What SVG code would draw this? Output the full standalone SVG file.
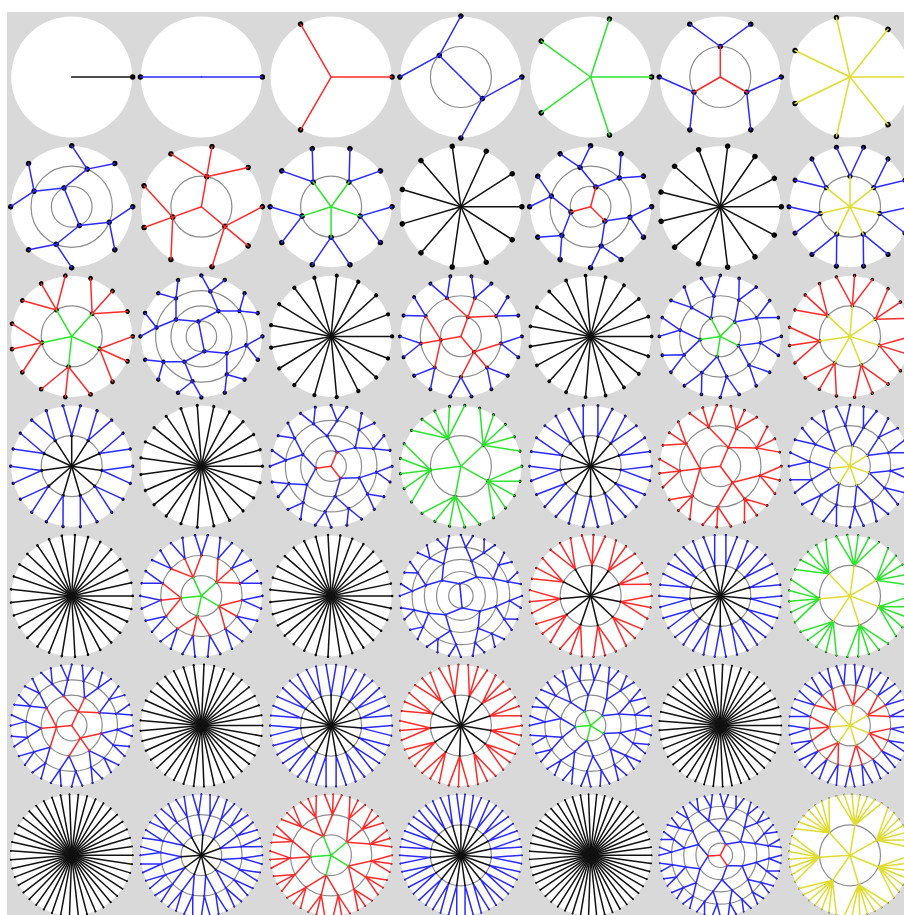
<svg xmlns="http://www.w3.org/2000/svg" xmlns:xlink="http://www.w3.org/1999/xlink" width="904" height="915" viewBox="0 0 904 915">
<style>
.w{fill:#fff}
.c{fill:none;stroke:#8c8c8c;stroke-width:1.2}
path{fill:none;stroke-width:1.5;stroke-linecap:round}
.b{stroke:#2a2aff}.r{stroke:#ff2a2a}.g{stroke:#2ae62a}.y{stroke:#e0dc30}.k{stroke:#111}
circle{fill:#000}
</style>
<defs>
<circle id="W" class="w" r="60.5"/>
<g id="c2"><circle class="c" r="30.5"/></g>
<g id="c3"><circle class="c" r="20.33"/><circle class="c" r="40.67"/></g>
<g id="c4"><circle class="c" r="15.25"/><circle class="c" r="30.5"/><circle class="c" r="45.75"/></g>
<g id="c5"><circle class="c" r="12.2"/><circle class="c" r="24.4"/><circle class="c" r="36.6"/><circle class="c" r="48.8"/></g>
<g id="p1"><circle cx="61" r="2.7"/><path class="k" d="M0 0H61"/></g>
<g id="p2"><circle cx="61" r="2.7"/><path class="b" d="M0 0H61"/></g>
<g id="p3"><circle cx="61" r="2.7"/><path class="r" d="M0 0H61"/></g>
<g id="p5"><circle cx="61" r="2.7"/><path class="g" d="M0 0H61"/></g>
<g id="p7"><circle cx="61" r="2.7"/><path class="y" d="M0 0H61"/></g>
<g id="p17"><circle cx="61" r="2.11"/><path class="k" d="M0 0H61"/></g>
<g id="p19"><circle cx="61" r="1.91"/><path class="k" d="M0 0H61"/></g>
<g id="p23"><circle cx="61" r="1.61"/><path class="k" d="M0 0H61"/></g>
<g id="p29"><circle cx="61" r="1.32"/><path class="k" d="M0 0H61"/></g>
<g id="p31"><circle cx="61" r="1.25"/><path class="k" d="M0 0H61"/></g>
<g id="p37"><circle cx="61" r="1.08"/><path class="k" d="M0 0H61"/></g>
<g id="p41"><circle cx="61" r=".99"/><path class="k" d="M0 0H61"/></g>
<g id="p43"><circle cx="61" r=".96"/><path class="k" d="M0 0H61"/></g>
<g id="p47"><circle cx="61" r=".89"/><path class="k" d="M0 0H61"/></g>

<g id="n4s1"><circle cx="30.5" r="2.7"/><circle cx="43.13" cy="-43.13" r="2.7"/><circle cx="43.13" cy="43.13" r="2.7"/><path class="b" d="M30.5 0L43.13-43.13M30.5 0L43.13 43.13"/></g>
<g id="n4t"><use href="#n4s1"/><path class="b" d="M0 0H30.5"/></g>

<g id="n6s1"><circle cx="30.5" r="2.7"/><circle cx="52.83" cy="-30.5" r="2.7"/><circle cx="52.83" cy="30.5" r="2.7"/><path class="b" d="M30.5 0L52.83-30.5M30.5 0L52.83 30.5"/></g>
<g id="n6t"><use href="#n6s1"/><path class="r" d="M0 0H30.5"/></g>

<g id="n8s2"><circle cx="40.67" r="2.7"/><circle cx="56.36" cy="-23.34" r="2.7"/><circle cx="56.36" cy="23.34" r="2.7"/><path class="b" d="M40.67 0L56.36-23.34M40.67 0L56.36 23.34"/></g>
<g id="n8s1"><circle cx="20.33" r="2.7"/><use href="#n8s2" transform="rotate(-45)"/><use href="#n8s2" transform="rotate(45)"/><path class="b" d="M20.33 0L28.76-28.76M20.33 0L28.76 28.76"/></g>
<g id="n8t"><use href="#n8s1"/><path class="b" d="M0 0H20.33"/></g>

<g id="n9s1"><circle cx="30.5" r="2.7"/><circle cx="61" r="2.7"/><circle cx="46.73" cy="-39.21" r="2.7"/><circle cx="46.73" cy="39.21" r="2.7"/><path class="r" d="M30.5 0H61M30.5 0L46.73-39.21M30.5 0L46.73 39.21"/></g>
<g id="n9t"><use href="#n9s1"/><path class="r" d="M0 0H30.5"/></g>

<g id="n10s1"><circle cx="30.5" r="2.7"/><circle cx="58.01" cy="-18.85" r="2.7"/><circle cx="58.01" cy="18.85" r="2.7"/><path class="b" d="M30.5 0L58.01-18.85M30.5 0L58.01 18.85"/></g>
<g id="n10t"><use href="#n10s1"/><path class="g" d="M0 0H30.5"/></g>

<g id="n12s2"><circle cx="40.67" r="2.7"/><circle cx="58.92" cy="-15.79" r="2.7"/><circle cx="58.92" cy="15.79" r="2.7"/><path class="b" d="M40.67 0L58.92-15.79M40.67 0L58.92 15.79"/></g>
<g id="n12s1"><circle cx="20.33" r="2.7"/><use href="#n12s2" transform="rotate(-30)"/><use href="#n12s2" transform="rotate(30)"/><path class="b" d="M20.33 0L35.22-20.33M20.33 0L35.22 20.33"/></g>
<g id="n12t"><use href="#n12s1"/><path class="r" d="M0 0H20.33"/></g>

<g id="n14s1"><circle cx="30.5" r="2.52"/><circle cx="59.47" cy="-13.57" r="2.52"/><circle cx="59.47" cy="13.57" r="2.52"/><path class="b" d="M30.5 0L59.47-13.57M30.5 0L59.47 13.57"/></g>
<g id="n14t"><use href="#n14s1"/><path class="y" d="M0 0H30.5"/></g>

<g id="n15s1"><circle cx="30.5" r="2.37"/><circle cx="61" r="2.37"/><circle cx="55.73" cy="-24.81" r="2.37"/><circle cx="55.73" cy="24.81" r="2.37"/><path class="r" d="M30.5 0H61M30.5 0L55.73-24.81M30.5 0L55.73 24.81"/></g>
<g id="n15t"><use href="#n15s1"/><path class="g" d="M0 0H30.5"/></g>

<g id="n16s3"><circle cx="45.75" r="2.23"/><circle cx="59.83" cy="-11.9" r="2.23"/><circle cx="59.83" cy="11.9" r="2.23"/><path class="b" d="M45.75 0L59.83-11.9M45.75 0L59.83 11.9"/></g>
<g id="n16s2"><circle cx="30.5" r="2.23"/><use href="#n16s3" transform="rotate(-22.5)"/><use href="#n16s3" transform="rotate(22.5)"/><path class="b" d="M30.5 0L42.27-17.51M30.5 0L42.27 17.51"/></g>
<g id="n16s1"><circle cx="15.25" r="2.23"/><use href="#n16s2" transform="rotate(-45)"/><use href="#n16s2" transform="rotate(45)"/><path class="b" d="M15.25 0L21.57-21.57M15.25 0L21.57 21.57"/></g>
<g id="n16t"><use href="#n16s1"/><path class="b" d="M0 0H15.25"/></g>

<g id="n18s2"><circle cx="40.67" r="2"/><circle cx="60.07" cy="-10.59" r="2"/><circle cx="60.07" cy="10.59" r="2"/><path class="b" d="M40.67 0L60.07-10.59M40.67 0L60.07 10.59"/></g>
<g id="n18s1"><circle cx="20.33" r="2"/><use href="#n18s2"/><use href="#n18s2" transform="rotate(-40)"/><use href="#n18s2" transform="rotate(40)"/><path class="r" d="M20.33 0H40.67M20.33 0L31.15-26.14M20.33 0L31.15 26.14"/></g>
<g id="n18t"><use href="#n18s1"/><path class="r" d="M0 0H20.33"/></g>

<g id="n20s2"><circle cx="40.67" r="1.83"/><circle cx="60.25" cy="-9.54" r="1.83"/><circle cx="60.25" cy="9.54" r="1.83"/><path class="b" d="M40.67 0L60.25-9.54M40.67 0L60.25 9.54"/></g>
<g id="n20s1"><circle cx="20.33" r="1.83"/><use href="#n20s2" transform="rotate(-18)"/><use href="#n20s2" transform="rotate(18)"/><path class="b" d="M20.33 0L38.68-12.57M20.33 0L38.68 12.57"/></g>
<g id="n20t"><use href="#n20s1"/><path class="g" d="M0 0H20.33"/></g>

<g id="n21s1"><circle cx="30.5" r="1.75"/><circle cx="61" r="1.75"/><circle cx="58.29" cy="-17.98" r="1.75"/><circle cx="58.29" cy="17.98" r="1.75"/><path class="r" d="M30.5 0H61M30.5 0L58.29-17.98M30.5 0L58.29 17.98"/></g>
<g id="n21t"><use href="#n21s1"/><path class="y" d="M0 0H30.5"/></g>

<g id="n22s1"><circle cx="30.5" r="1.68"/><circle cx="60.38" cy="-8.68" r="1.68"/><circle cx="60.38" cy="8.68" r="1.68"/><path class="b" d="M30.5 0L60.38-8.68M30.5 0L60.38 8.68"/></g>
<g id="n22t"><use href="#n22s1"/><path class="k" d="M0 0H30.5"/></g>

<g id="n24s3"><circle cx="45.75" r="1.55"/><circle cx="60.48" cy="-7.96" r="1.55"/><circle cx="60.48" cy="7.96" r="1.55"/><path class="b" d="M45.75 0L60.48-7.96M45.75 0L60.48 7.96"/></g>
<g id="n24s2"><circle cx="30.5" r="1.55"/><use href="#n24s3" transform="rotate(-15)"/><use href="#n24s3" transform="rotate(15)"/><path class="b" d="M30.5 0L44.19-11.84M30.5 0L44.19 11.84"/></g>
<g id="n24s1"><circle cx="15.25" r="1.55"/><use href="#n24s2" transform="rotate(-30)"/><use href="#n24s2" transform="rotate(30)"/><path class="b" d="M15.25 0L26.41-15.25M15.25 0L26.41 15.25"/></g>
<g id="n24t"><use href="#n24s1"/><path class="r" d="M0 0H15.25"/></g>

<g id="n25s1"><circle cx="30.5" r="1.5"/><circle cx="61" r="1.5"/><circle cx="59.08" cy="-15.17" r="1.5"/><circle cx="59.08" cy="15.17" r="1.5"/><circle cx="53.45" cy="-29.39" r="1.5"/><circle cx="53.45" cy="29.39" r="1.5"/><path class="g" d="M30.5 0H61M30.5 0L59.08-15.17M30.5 0L59.08 15.17M30.5 0L53.45-29.39M30.5 0L53.45 29.39"/></g>
<g id="n25t"><use href="#n25s1"/><path class="g" d="M0 0H30.5"/></g>

<g id="n26s1"><circle cx="30.5" r="1.45"/><circle cx="60.56" cy="-7.35" r="1.45"/><circle cx="60.56" cy="7.35" r="1.45"/><path class="b" d="M30.5 0L60.56-7.35M30.5 0L60.56 7.35"/></g>
<g id="n26t"><use href="#n26s1"/><path class="k" d="M0 0H30.5"/></g>

<g id="n27s2"><circle cx="40.67" r="1.4"/><circle cx="61" r="1.4"/><circle cx="59.36" cy="-14.07" r="1.4"/><circle cx="59.36" cy="14.07" r="1.4"/><path class="r" d="M40.67 0H61M40.67 0L59.36-14.07M40.67 0L59.36 14.07"/></g>
<g id="n27s1"><circle cx="20.33" r="1.4"/><use href="#n27s2"/><use href="#n27s2" transform="rotate(-40)"/><use href="#n27s2" transform="rotate(40)"/><path class="r" d="M20.33 0H40.67M20.33 0L31.15-26.14M20.33 0L31.15 26.14"/></g>
<g id="n27t"><use href="#n27s1"/><path class="r" d="M0 0H20.33"/></g>

<g id="n28s2"><circle cx="40.67" r="1.36"/><circle cx="60.62" cy="-6.83" r="1.36"/><circle cx="60.62" cy="6.83" r="1.36"/><path class="b" d="M40.67 0L60.62-6.83M40.67 0L60.62 6.83"/></g>
<g id="n28s1"><circle cx="20.33" r="1.36"/><use href="#n28s2" transform="rotate(-12.857)"/><use href="#n28s2" transform="rotate(12.857)"/><path class="b" d="M20.33 0L39.65-9.05M20.33 0L39.65 9.05"/></g>
<g id="n28t"><use href="#n28s1"/><path class="y" d="M0 0H20.33"/></g>

<g id="n30s2"><circle cx="40.67" r="1.28"/><circle cx="60.67" cy="-6.38" r="1.28"/><circle cx="60.67" cy="6.38" r="1.28"/><path class="b" d="M40.67 0L60.67-6.38M40.67 0L60.67 6.38"/></g>
<g id="n30s1"><circle cx="20.33" r="1.28"/><use href="#n30s2"/><use href="#n30s2" transform="rotate(-24)"/><use href="#n30s2" transform="rotate(24)"/><path class="r" d="M20.33 0H40.67M20.33 0L37.15-16.54M20.33 0L37.15 16.54"/></g>
<g id="n30t"><use href="#n30s1"/><path class="g" d="M0 0H20.33"/></g>

<g id="n32s4"><circle cx="48.8" r="1.22"/><circle cx="60.71" cy="-5.98" r="1.22"/><circle cx="60.71" cy="5.98" r="1.22"/><path class="b" d="M48.8 0L60.71-5.98M48.8 0L60.71 5.98"/></g>
<g id="n32s3"><circle cx="36.6" r="1.22"/><use href="#n32s4" transform="rotate(-11.25)"/><use href="#n32s4" transform="rotate(11.25)"/><path class="b" d="M36.6 0L47.86-9.52M36.6 0L47.86 9.52"/></g>
<g id="n32s2"><circle cx="24.4" r="1.22"/><use href="#n32s3" transform="rotate(-22.5)"/><use href="#n32s3" transform="rotate(22.5)"/><path class="b" d="M24.4 0L33.81-14.01M24.4 0L33.81 14.01"/></g>
<g id="n32s1"><circle cx="12.2" r="1.22"/><use href="#n32s2" transform="rotate(-45)"/><use href="#n32s2" transform="rotate(45)"/><path class="b" d="M12.2 0L17.25-17.25M12.2 0L17.25 17.25"/></g>
<g id="n32t"><use href="#n32s1"/><path class="b" d="M0 0H12.2"/></g>

<g id="n33s1"><circle cx="30.5" r="1.18"/><circle cx="61" r="1.18"/><circle cx="59.9" cy="-11.54" r="1.18"/><circle cx="59.9" cy="11.54" r="1.18"/><path class="r" d="M30.5 0H61M30.5 0L59.9-11.54M30.5 0L59.9 11.54"/></g>
<g id="n33t"><use href="#n33s1"/><path class="k" d="M0 0H30.5"/></g>

<g id="n34s1"><circle cx="30.5" r="1.16"/><circle cx="60.74" cy="-5.63" r="1.16"/><circle cx="60.74" cy="5.63" r="1.16"/><path class="b" d="M30.5 0L60.74-5.63M30.5 0L60.74 5.63"/></g>
<g id="n34t"><use href="#n34s1"/><path class="k" d="M0 0H30.5"/></g>

<g id="n35s1"><circle cx="30.5" r="1.13"/><circle cx="61" r="1.13"/><circle cx="60.02" cy="-10.89" r="1.13"/><circle cx="60.02" cy="10.89" r="1.13"/><circle cx="57.11" cy="-21.43" r="1.13"/><circle cx="57.11" cy="21.43" r="1.13"/><path class="g" d="M30.5 0H61M30.5 0L60.02-10.89M30.5 0L60.02 10.89M30.5 0L57.11-21.43M30.5 0L57.11 21.43"/></g>
<g id="n35t"><use href="#n35s1"/><path class="y" d="M0 0H30.5"/></g>

<g id="n36s3"><circle cx="45.75" r="1.1"/><circle cx="60.77" cy="-5.32" r="1.1"/><circle cx="60.77" cy="5.32" r="1.1"/><path class="b" d="M45.75 0L60.77-5.32M45.75 0L60.77 5.32"/></g>
<g id="n36s2"><circle cx="30.5" r="1.1"/><use href="#n36s3" transform="rotate(-10)"/><use href="#n36s3" transform="rotate(10)"/><path class="b" d="M30.5 0L45.05-7.94M30.5 0L45.05 7.94"/></g>
<g id="n36s1"><circle cx="15.25" r="1.1"/><use href="#n36s2"/><use href="#n36s2" transform="rotate(-40)"/><use href="#n36s2" transform="rotate(40)"/><path class="r" d="M15.25 0H30.5M15.25 0L23.36-19.61M15.25 0L23.36 19.61"/></g>
<g id="n36t"><use href="#n36s1"/><path class="r" d="M0 0H15.25"/></g>

<g id="n38s1"><circle cx="30.5" r="1.06"/><circle cx="60.79" cy="-5.04" r="1.06"/><circle cx="60.79" cy="5.04" r="1.06"/><path class="b" d="M30.5 0L60.79-5.04M30.5 0L60.79 5.04"/></g>
<g id="n38t"><use href="#n38s1"/><path class="k" d="M0 0H30.5"/></g>

<g id="n39s1"><circle cx="30.5" r="1.03"/><circle cx="61" r="1.03"/><circle cx="60.21" cy="-9.79" r="1.03"/><circle cx="60.21" cy="9.79" r="1.03"/><path class="r" d="M30.5 0H61M30.5 0L60.21-9.79M30.5 0L60.21 9.79"/></g>
<g id="n39t"><use href="#n39s1"/><path class="k" d="M0 0H30.5"/></g>

<g id="n40s3"><circle cx="45.75" r="1.01"/><circle cx="60.81" cy="-4.79" r="1.01"/><circle cx="60.81" cy="4.79" r="1.01"/><path class="b" d="M45.75 0L60.81-4.79M45.75 0L60.81 4.79"/></g>
<g id="n40s2"><circle cx="30.5" r="1.01"/><use href="#n40s3" transform="rotate(-9)"/><use href="#n40s3" transform="rotate(9)"/><path class="b" d="M30.5 0L45.19-7.16M30.5 0L45.19 7.16"/></g>
<g id="n40s1"><circle cx="15.25" r="1.01"/><use href="#n40s2" transform="rotate(-18)"/><use href="#n40s2" transform="rotate(18)"/><path class="b" d="M15.25 0L29.01-9.43M15.25 0L29.01 9.43"/></g>
<g id="n40t"><use href="#n40s1"/><path class="g" d="M0 0H15.25"/></g>

<g id="n42s2"><circle cx="40.67" r=".97"/><circle cx="60.83" cy="-4.56" r=".97"/><circle cx="60.83" cy="4.56" r=".97"/><path class="b" d="M40.67 0L60.83-4.56M40.67 0L60.83 4.56"/></g>
<g id="n42s1"><circle cx="20.33" r=".97"/><use href="#n42s2"/><use href="#n42s2" transform="rotate(-17.143)"/><use href="#n42s2" transform="rotate(17.143)"/><path class="r" d="M20.33 0H40.67M20.33 0L38.86-11.99M20.33 0L38.86 11.99"/></g>
<g id="n42t"><use href="#n42s1"/><path class="y" d="M0 0H20.33"/></g>

<g id="n44s2"><circle cx="40.67" r=".94"/><circle cx="60.84" cy="-4.35" r=".94"/><circle cx="60.84" cy="4.35" r=".94"/><path class="b" d="M40.67 0L60.84-4.35M40.67 0L60.84 4.35"/></g>
<g id="n44s1"><circle cx="20.33" r=".94"/><use href="#n44s2" transform="rotate(-8.182)"/><use href="#n44s2" transform="rotate(8.182)"/><path class="b" d="M20.33 0L40.26-5.79M20.33 0L40.26 5.79"/></g>
<g id="n44t"><use href="#n44s1"/><path class="k" d="M0 0H20.33"/></g>

<g id="n45s2"><circle cx="40.67" r=".92"/><circle cx="61" r=".92"/><circle cx="60.41" cy="-8.49" r=".92"/><circle cx="60.41" cy="8.49" r=".92"/><path class="r" d="M40.67 0H61M40.67 0L60.41-8.49M40.67 0L60.41 8.49"/></g>
<g id="n45s1"><circle cx="20.33" r=".92"/><use href="#n45s2"/><use href="#n45s2" transform="rotate(-24)"/><use href="#n45s2" transform="rotate(24)"/><path class="r" d="M20.33 0H40.67M20.33 0L37.15-16.54M20.33 0L37.15 16.54"/></g>
<g id="n45t"><use href="#n45s1"/><path class="g" d="M0 0H20.33"/></g>

<g id="n46s1"><circle cx="30.5" r=".91"/><circle cx="60.86" cy="-4.16" r=".91"/><circle cx="60.86" cy="4.16" r=".91"/><path class="b" d="M30.5 0L60.86-4.16M30.5 0L60.86 4.16"/></g>
<g id="n46t"><use href="#n46s1"/><path class="k" d="M0 0H30.5"/></g>

<g id="n48s4"><circle cx="48.8" r=".88"/><circle cx="60.87" cy="-3.99" r=".88"/><circle cx="60.87" cy="3.99" r=".88"/><path class="b" d="M48.8 0L60.87-3.99M48.8 0L60.87 3.99"/></g>
<g id="n48s3"><circle cx="36.6" r=".88"/><use href="#n48s4" transform="rotate(-7.5)"/><use href="#n48s4" transform="rotate(7.5)"/><path class="b" d="M36.6 0L48.38-6.37M36.6 0L48.38 6.37"/></g>
<g id="n48s2"><circle cx="24.4" r=".88"/><use href="#n48s3" transform="rotate(-15)"/><use href="#n48s3" transform="rotate(15)"/><path class="b" d="M24.4 0L35.35-9.47M24.4 0L35.35 9.47"/></g>
<g id="n48s1"><circle cx="12.2" r=".88"/><use href="#n48s2" transform="rotate(-30)"/><use href="#n48s2" transform="rotate(30)"/><path class="b" d="M12.2 0L21.13-12.2M12.2 0L21.13 12.2"/></g>
<g id="n48t"><use href="#n48s1"/><path class="r" d="M0 0H12.2"/></g>

<g id="n49s1"><circle cx="30.5" r=".86"/><circle cx="61" r=".86"/><circle cx="60.5" cy="-7.8" r=".86"/><circle cx="60.5" cy="7.8" r=".86"/><circle cx="59" cy="-15.47" r=".86"/><circle cx="59" cy="15.47" r=".86"/><circle cx="56.54" cy="-22.89" r=".86"/><circle cx="56.54" cy="22.89" r=".86"/><path class="y" d="M30.5 0H61M30.5 0L60.5-7.8M30.5 0L60.5 7.8M30.5 0L59-15.47M30.5 0L59 15.47M30.5 0L56.54-22.89M30.5 0L56.54 22.89"/></g>
<g id="n49t"><use href="#n49s1"/><path class="y" d="M0 0H30.5"/></g>
</defs>

<rect width="904" height="915" fill="#fff"/>
<rect x="7" y="12" width="897" height="903" fill="#d9d9d9"/>

<g id="n1" transform="translate(71.7,77)"><use href="#W"/><use href="#p1"/></g>
<g id="n2" transform="translate(201.4,77)"><use href="#W"/><use href="#p2"/><use href="#p2" transform="rotate(180)"/></g>
<g id="n3" transform="translate(331.1,77)"><use href="#W"/><use href="#p3"/><use href="#p3" transform="rotate(120)"/><use href="#p3" transform="rotate(240)"/></g>
<g id="n4" transform="translate(460.9,77)"><use href="#W"/><use href="#c2"/><use href="#n4t" transform="rotate(45)"/><use href="#n4t" transform="rotate(225)"/></g>
<g id="n5" transform="translate(590.6,77)"><use href="#W"/><use href="#p5"/><use href="#p5" transform="rotate(72)"/><use href="#p5" transform="rotate(144)"/><use href="#p5" transform="rotate(216)"/><use href="#p5" transform="rotate(288)"/></g>
<g id="n6" transform="translate(720.3,77)"><use href="#W"/><use href="#c2"/><use href="#n6t" transform="rotate(30)"/><use href="#n6t" transform="rotate(150)"/><use href="#n6t" transform="rotate(270)"/></g>
<g id="n7" transform="translate(850,77)"><use href="#W"/><use href="#p7"/><use href="#p7" transform="rotate(51.43)"/><use href="#p7" transform="rotate(102.86)"/><use href="#p7" transform="rotate(154.29)"/><use href="#p7" transform="rotate(205.71)"/><use href="#p7" transform="rotate(257.14)"/><use href="#p7" transform="rotate(308.57)"/></g>

<g id="n8" transform="translate(71.7,206.7)"><use href="#W"/><use href="#c3"/><use href="#n8t" transform="rotate(67.5)"/><use href="#n8t" transform="rotate(247.5)"/></g>
<g id="n9" transform="translate(201.4,206.7)"><use href="#W"/><use href="#c2"/><use href="#n9t" transform="rotate(40)"/><use href="#n9t" transform="rotate(160)"/><use href="#n9t" transform="rotate(280)"/></g>
<g id="n10" transform="translate(331.1,206.7)"><use href="#W"/><use href="#c2"/><use href="#n10t" transform="rotate(18)"/><use href="#n10t" transform="rotate(90)"/><use href="#n10t" transform="rotate(162)"/><use href="#n10t" transform="rotate(234)"/><use href="#n10t" transform="rotate(306)"/></g>
<g id="n11" transform="translate(460.9,206.7)"><use href="#W"/><use href="#p1"/><use href="#p1" transform="rotate(32.73)"/><use href="#p1" transform="rotate(65.45)"/><use href="#p1" transform="rotate(98.18)"/><use href="#p1" transform="rotate(130.91)"/><use href="#p1" transform="rotate(163.64)"/><use href="#p1" transform="rotate(196.36)"/><use href="#p1" transform="rotate(229.09)"/><use href="#p1" transform="rotate(261.82)"/><use href="#p1" transform="rotate(294.55)"/><use href="#p1" transform="rotate(327.27)"/></g>
<g id="n12" transform="translate(590.6,206.7)"><use href="#W"/><use href="#c3"/><use href="#n12t" transform="rotate(45)"/><use href="#n12t" transform="rotate(165)"/><use href="#n12t" transform="rotate(285)"/></g>
<g id="n13" transform="translate(720.3,206.7)"><use href="#W"/><use href="#p1"/><use href="#p1" transform="rotate(27.69)"/><use href="#p1" transform="rotate(55.38)"/><use href="#p1" transform="rotate(83.08)"/><use href="#p1" transform="rotate(110.77)"/><use href="#p1" transform="rotate(138.46)"/><use href="#p1" transform="rotate(166.15)"/><use href="#p1" transform="rotate(193.85)"/><use href="#p1" transform="rotate(221.54)"/><use href="#p1" transform="rotate(249.23)"/><use href="#p1" transform="rotate(276.92)"/><use href="#p1" transform="rotate(304.62)"/><use href="#p1" transform="rotate(332.31)"/></g>
<g id="n14" transform="translate(850,206.7)"><use href="#W"/><use href="#c2"/><use href="#n14t" transform="rotate(12.86)"/><use href="#n14t" transform="rotate(64.29)"/><use href="#n14t" transform="rotate(115.71)"/><use href="#n14t" transform="rotate(167.14)"/><use href="#n14t" transform="rotate(218.57)"/><use href="#n14t" transform="rotate(270)"/><use href="#n14t" transform="rotate(321.43)"/></g>

<g id="n15" transform="translate(71.7,336.4)"><use href="#W"/><use href="#c2"/><use href="#n15t" transform="rotate(24)"/><use href="#n15t" transform="rotate(96)"/><use href="#n15t" transform="rotate(168)"/><use href="#n15t" transform="rotate(240)"/><use href="#n15t" transform="rotate(312)"/></g>
<g id="n16" transform="translate(201.4,336.4)"><use href="#W"/><use href="#c4"/><use href="#n16t" transform="rotate(78.75)"/><use href="#n16t" transform="rotate(258.75)"/></g>
<g id="n17" transform="translate(331.1,336.4)"><use href="#W"/><use href="#p17"/><use href="#p17" transform="rotate(21.18)"/><use href="#p17" transform="rotate(42.35)"/><use href="#p17" transform="rotate(63.53)"/><use href="#p17" transform="rotate(84.71)"/><use href="#p17" transform="rotate(105.88)"/><use href="#p17" transform="rotate(127.06)"/><use href="#p17" transform="rotate(148.24)"/><use href="#p17" transform="rotate(169.41)"/><use href="#p17" transform="rotate(190.59)"/><use href="#p17" transform="rotate(211.76)"/><use href="#p17" transform="rotate(232.94)"/><use href="#p17" transform="rotate(254.12)"/><use href="#p17" transform="rotate(275.29)"/><use href="#p17" transform="rotate(296.47)"/><use href="#p17" transform="rotate(317.65)"/><use href="#p17" transform="rotate(338.82)"/></g>
<g id="n18" transform="translate(460.9,336.4)"><use href="#W"/><use href="#c3"/><use href="#n18t" transform="rotate(50)"/><use href="#n18t" transform="rotate(170)"/><use href="#n18t" transform="rotate(290)"/></g>
<g id="n19" transform="translate(590.6,336.4)"><use href="#W"/><use href="#p19"/><use href="#p19" transform="rotate(18.95)"/><use href="#p19" transform="rotate(37.89)"/><use href="#p19" transform="rotate(56.84)"/><use href="#p19" transform="rotate(75.79)"/><use href="#p19" transform="rotate(94.74)"/><use href="#p19" transform="rotate(113.68)"/><use href="#p19" transform="rotate(132.63)"/><use href="#p19" transform="rotate(151.58)"/><use href="#p19" transform="rotate(170.53)"/><use href="#p19" transform="rotate(189.47)"/><use href="#p19" transform="rotate(208.42)"/><use href="#p19" transform="rotate(227.37)"/><use href="#p19" transform="rotate(246.32)"/><use href="#p19" transform="rotate(265.26)"/><use href="#p19" transform="rotate(284.21)"/><use href="#p19" transform="rotate(303.16)"/><use href="#p19" transform="rotate(322.11)"/><use href="#p19" transform="rotate(341.05)"/></g>
<g id="n20" transform="translate(720.3,336.4)"><use href="#W"/><use href="#c3"/><use href="#n20t" transform="rotate(27)"/><use href="#n20t" transform="rotate(99)"/><use href="#n20t" transform="rotate(171)"/><use href="#n20t" transform="rotate(243)"/><use href="#n20t" transform="rotate(315)"/></g>
<g id="n21" transform="translate(850,336.4)"><use href="#W"/><use href="#c2"/><use href="#n21t" transform="rotate(17.14)"/><use href="#n21t" transform="rotate(68.57)"/><use href="#n21t" transform="rotate(120)"/><use href="#n21t" transform="rotate(171.43)"/><use href="#n21t" transform="rotate(222.86)"/><use href="#n21t" transform="rotate(274.29)"/><use href="#n21t" transform="rotate(325.71)"/></g>

<g id="n22" transform="translate(71.7,466.2)"><use href="#W"/><use href="#c2"/><use href="#n22t" transform="rotate(8.18)"/><use href="#n22t" transform="rotate(40.91)"/><use href="#n22t" transform="rotate(73.64)"/><use href="#n22t" transform="rotate(106.36)"/><use href="#n22t" transform="rotate(139.09)"/><use href="#n22t" transform="rotate(171.82)"/><use href="#n22t" transform="rotate(204.55)"/><use href="#n22t" transform="rotate(237.27)"/><use href="#n22t" transform="rotate(270)"/><use href="#n22t" transform="rotate(302.73)"/><use href="#n22t" transform="rotate(335.45)"/></g>
<g id="n23" transform="translate(201.4,466.2)"><use href="#W"/><use href="#p23"/><use href="#p23" transform="rotate(15.65)"/><use href="#p23" transform="rotate(31.3)"/><use href="#p23" transform="rotate(46.96)"/><use href="#p23" transform="rotate(62.61)"/><use href="#p23" transform="rotate(78.26)"/><use href="#p23" transform="rotate(93.91)"/><use href="#p23" transform="rotate(109.57)"/><use href="#p23" transform="rotate(125.22)"/><use href="#p23" transform="rotate(140.87)"/><use href="#p23" transform="rotate(156.52)"/><use href="#p23" transform="rotate(172.17)"/><use href="#p23" transform="rotate(187.83)"/><use href="#p23" transform="rotate(203.48)"/><use href="#p23" transform="rotate(219.13)"/><use href="#p23" transform="rotate(234.78)"/><use href="#p23" transform="rotate(250.43)"/><use href="#p23" transform="rotate(266.09)"/><use href="#p23" transform="rotate(281.74)"/><use href="#p23" transform="rotate(297.39)"/><use href="#p23" transform="rotate(313.04)"/><use href="#p23" transform="rotate(328.7)"/><use href="#p23" transform="rotate(344.35)"/></g>
<g id="n24" transform="translate(331.1,466.2)"><use href="#W"/><use href="#c4"/><use href="#n24t" transform="rotate(52.5)"/><use href="#n24t" transform="rotate(172.5)"/><use href="#n24t" transform="rotate(292.5)"/></g>
<g id="n25" transform="translate(460.9,466.2)"><use href="#W"/><use href="#c2"/><use href="#n25t" transform="rotate(28.8)"/><use href="#n25t" transform="rotate(100.8)"/><use href="#n25t" transform="rotate(172.8)"/><use href="#n25t" transform="rotate(244.8)"/><use href="#n25t" transform="rotate(316.8)"/></g>
<g id="n26" transform="translate(590.6,466.2)"><use href="#W"/><use href="#c2"/><use href="#n26t" transform="rotate(6.92)"/><use href="#n26t" transform="rotate(34.62)"/><use href="#n26t" transform="rotate(62.31)"/><use href="#n26t" transform="rotate(90)"/><use href="#n26t" transform="rotate(117.69)"/><use href="#n26t" transform="rotate(145.38)"/><use href="#n26t" transform="rotate(173.08)"/><use href="#n26t" transform="rotate(200.77)"/><use href="#n26t" transform="rotate(228.46)"/><use href="#n26t" transform="rotate(256.15)"/><use href="#n26t" transform="rotate(283.85)"/><use href="#n26t" transform="rotate(311.54)"/><use href="#n26t" transform="rotate(339.23)"/></g>
<g id="n27" transform="translate(720.3,466.2)"><use href="#W"/><use href="#c3"/><use href="#n27t" transform="rotate(53.33)"/><use href="#n27t" transform="rotate(173.33)"/><use href="#n27t" transform="rotate(293.33)"/></g>
<g id="n28" transform="translate(850,466.2)"><use href="#W"/><use href="#c3"/><use href="#n28t" transform="rotate(19.29)"/><use href="#n28t" transform="rotate(70.71)"/><use href="#n28t" transform="rotate(122.14)"/><use href="#n28t" transform="rotate(173.57)"/><use href="#n28t" transform="rotate(225)"/><use href="#n28t" transform="rotate(276.43)"/><use href="#n28t" transform="rotate(327.86)"/></g>

<g id="n29" transform="translate(71.7,595.9)"><use href="#W"/><use href="#p29"/><use href="#p29" transform="rotate(12.41)"/><use href="#p29" transform="rotate(24.83)"/><use href="#p29" transform="rotate(37.24)"/><use href="#p29" transform="rotate(49.66)"/><use href="#p29" transform="rotate(62.07)"/><use href="#p29" transform="rotate(74.48)"/><use href="#p29" transform="rotate(86.9)"/><use href="#p29" transform="rotate(99.31)"/><use href="#p29" transform="rotate(111.72)"/><use href="#p29" transform="rotate(124.14)"/><use href="#p29" transform="rotate(136.55)"/><use href="#p29" transform="rotate(148.97)"/><use href="#p29" transform="rotate(161.38)"/><use href="#p29" transform="rotate(173.79)"/><use href="#p29" transform="rotate(186.21)"/><use href="#p29" transform="rotate(198.62)"/><use href="#p29" transform="rotate(211.03)"/><use href="#p29" transform="rotate(223.45)"/><use href="#p29" transform="rotate(235.86)"/><use href="#p29" transform="rotate(248.28)"/><use href="#p29" transform="rotate(260.69)"/><use href="#p29" transform="rotate(273.1)"/><use href="#p29" transform="rotate(285.52)"/><use href="#p29" transform="rotate(297.93)"/><use href="#p29" transform="rotate(310.34)"/><use href="#p29" transform="rotate(322.76)"/><use href="#p29" transform="rotate(335.17)"/><use href="#p29" transform="rotate(347.59)"/></g>
<g id="n30" transform="translate(201.4,595.9)"><use href="#W"/><use href="#c3"/><use href="#n30t" transform="rotate(30)"/><use href="#n30t" transform="rotate(102)"/><use href="#n30t" transform="rotate(174)"/><use href="#n30t" transform="rotate(246)"/><use href="#n30t" transform="rotate(318)"/></g>
<g id="n31" transform="translate(331.1,595.9)"><use href="#W"/><use href="#p31"/><use href="#p31" transform="rotate(11.61)"/><use href="#p31" transform="rotate(23.23)"/><use href="#p31" transform="rotate(34.84)"/><use href="#p31" transform="rotate(46.45)"/><use href="#p31" transform="rotate(58.06)"/><use href="#p31" transform="rotate(69.68)"/><use href="#p31" transform="rotate(81.29)"/><use href="#p31" transform="rotate(92.9)"/><use href="#p31" transform="rotate(104.52)"/><use href="#p31" transform="rotate(116.13)"/><use href="#p31" transform="rotate(127.74)"/><use href="#p31" transform="rotate(139.35)"/><use href="#p31" transform="rotate(150.97)"/><use href="#p31" transform="rotate(162.58)"/><use href="#p31" transform="rotate(174.19)"/><use href="#p31" transform="rotate(185.81)"/><use href="#p31" transform="rotate(197.42)"/><use href="#p31" transform="rotate(209.03)"/><use href="#p31" transform="rotate(220.65)"/><use href="#p31" transform="rotate(232.26)"/><use href="#p31" transform="rotate(243.87)"/><use href="#p31" transform="rotate(255.48)"/><use href="#p31" transform="rotate(267.1)"/><use href="#p31" transform="rotate(278.71)"/><use href="#p31" transform="rotate(290.32)"/><use href="#p31" transform="rotate(301.94)"/><use href="#p31" transform="rotate(313.55)"/><use href="#p31" transform="rotate(325.16)"/><use href="#p31" transform="rotate(336.77)"/><use href="#p31" transform="rotate(348.39)"/></g>
<g id="n32" transform="translate(460.9,595.9)"><use href="#W"/><use href="#c5"/><use href="#n32t" transform="rotate(84.375)"/><use href="#n32t" transform="rotate(264.375)"/></g>
<g id="n33" transform="translate(590.6,595.9)"><use href="#W"/><use href="#c2"/><use href="#n33t" transform="rotate(10.91)"/><use href="#n33t" transform="rotate(43.64)"/><use href="#n33t" transform="rotate(76.36)"/><use href="#n33t" transform="rotate(109.09)"/><use href="#n33t" transform="rotate(141.82)"/><use href="#n33t" transform="rotate(174.55)"/><use href="#n33t" transform="rotate(207.27)"/><use href="#n33t" transform="rotate(240)"/><use href="#n33t" transform="rotate(272.73)"/><use href="#n33t" transform="rotate(305.45)"/><use href="#n33t" transform="rotate(338.18)"/></g>
<g id="n34" transform="translate(720.3,595.9)"><use href="#W"/><use href="#c2"/><use href="#n34t" transform="rotate(5.29)"/><use href="#n34t" transform="rotate(26.47)"/><use href="#n34t" transform="rotate(47.65)"/><use href="#n34t" transform="rotate(68.82)"/><use href="#n34t" transform="rotate(90)"/><use href="#n34t" transform="rotate(111.18)"/><use href="#n34t" transform="rotate(132.35)"/><use href="#n34t" transform="rotate(153.53)"/><use href="#n34t" transform="rotate(174.71)"/><use href="#n34t" transform="rotate(195.88)"/><use href="#n34t" transform="rotate(217.06)"/><use href="#n34t" transform="rotate(238.24)"/><use href="#n34t" transform="rotate(259.41)"/><use href="#n34t" transform="rotate(280.59)"/><use href="#n34t" transform="rotate(301.76)"/><use href="#n34t" transform="rotate(322.94)"/><use href="#n34t" transform="rotate(344.12)"/></g>
<g id="n35" transform="translate(850,595.9)"><use href="#W"/><use href="#c2"/><use href="#n35t" transform="rotate(20.57)"/><use href="#n35t" transform="rotate(72)"/><use href="#n35t" transform="rotate(123.43)"/><use href="#n35t" transform="rotate(174.86)"/><use href="#n35t" transform="rotate(226.29)"/><use href="#n35t" transform="rotate(277.71)"/><use href="#n35t" transform="rotate(329.14)"/></g>

<g id="n36" transform="translate(71.7,725.6)"><use href="#W"/><use href="#c4"/><use href="#n36t" transform="rotate(55)"/><use href="#n36t" transform="rotate(175)"/><use href="#n36t" transform="rotate(295)"/></g>
<g id="n37" transform="translate(201.4,725.6)"><use href="#W"/><use href="#p37"/><use href="#p37" transform="rotate(9.73)"/><use href="#p37" transform="rotate(19.46)"/><use href="#p37" transform="rotate(29.19)"/><use href="#p37" transform="rotate(38.92)"/><use href="#p37" transform="rotate(48.65)"/><use href="#p37" transform="rotate(58.38)"/><use href="#p37" transform="rotate(68.11)"/><use href="#p37" transform="rotate(77.84)"/><use href="#p37" transform="rotate(87.57)"/><use href="#p37" transform="rotate(97.3)"/><use href="#p37" transform="rotate(107.03)"/><use href="#p37" transform="rotate(116.76)"/><use href="#p37" transform="rotate(126.49)"/><use href="#p37" transform="rotate(136.22)"/><use href="#p37" transform="rotate(145.95)"/><use href="#p37" transform="rotate(155.68)"/><use href="#p37" transform="rotate(165.41)"/><use href="#p37" transform="rotate(175.14)"/><use href="#p37" transform="rotate(184.86)"/><use href="#p37" transform="rotate(194.59)"/><use href="#p37" transform="rotate(204.32)"/><use href="#p37" transform="rotate(214.05)"/><use href="#p37" transform="rotate(223.78)"/><use href="#p37" transform="rotate(233.51)"/><use href="#p37" transform="rotate(243.24)"/><use href="#p37" transform="rotate(252.97)"/><use href="#p37" transform="rotate(262.7)"/><use href="#p37" transform="rotate(272.43)"/><use href="#p37" transform="rotate(282.16)"/><use href="#p37" transform="rotate(291.89)"/><use href="#p37" transform="rotate(301.62)"/><use href="#p37" transform="rotate(311.35)"/><use href="#p37" transform="rotate(321.08)"/><use href="#p37" transform="rotate(330.81)"/><use href="#p37" transform="rotate(340.54)"/><use href="#p37" transform="rotate(350.27)"/></g>
<g id="n38" transform="translate(331.1,725.6)"><use href="#W"/><use href="#c2"/><use href="#n38t" transform="rotate(4.74)"/><use href="#n38t" transform="rotate(23.68)"/><use href="#n38t" transform="rotate(42.63)"/><use href="#n38t" transform="rotate(61.58)"/><use href="#n38t" transform="rotate(80.53)"/><use href="#n38t" transform="rotate(99.47)"/><use href="#n38t" transform="rotate(118.42)"/><use href="#n38t" transform="rotate(137.37)"/><use href="#n38t" transform="rotate(156.32)"/><use href="#n38t" transform="rotate(175.26)"/><use href="#n38t" transform="rotate(194.21)"/><use href="#n38t" transform="rotate(213.16)"/><use href="#n38t" transform="rotate(232.11)"/><use href="#n38t" transform="rotate(251.05)"/><use href="#n38t" transform="rotate(270)"/><use href="#n38t" transform="rotate(288.95)"/><use href="#n38t" transform="rotate(307.89)"/><use href="#n38t" transform="rotate(326.84)"/><use href="#n38t" transform="rotate(345.79)"/></g>
<g id="n39" transform="translate(460.9,725.6)"><use href="#W"/><use href="#c2"/><use href="#n39t" transform="rotate(9.23)"/><use href="#n39t" transform="rotate(36.92)"/><use href="#n39t" transform="rotate(64.62)"/><use href="#n39t" transform="rotate(92.31)"/><use href="#n39t" transform="rotate(120)"/><use href="#n39t" transform="rotate(147.69)"/><use href="#n39t" transform="rotate(175.38)"/><use href="#n39t" transform="rotate(203.08)"/><use href="#n39t" transform="rotate(230.77)"/><use href="#n39t" transform="rotate(258.46)"/><use href="#n39t" transform="rotate(286.15)"/><use href="#n39t" transform="rotate(313.85)"/><use href="#n39t" transform="rotate(341.54)"/></g>
<g id="n40" transform="translate(590.6,725.6)"><use href="#W"/><use href="#c4"/><use href="#n40t" transform="rotate(31.5)"/><use href="#n40t" transform="rotate(103.5)"/><use href="#n40t" transform="rotate(175.5)"/><use href="#n40t" transform="rotate(247.5)"/><use href="#n40t" transform="rotate(319.5)"/></g>
<g id="n41" transform="translate(720.3,725.6)"><use href="#W"/><use href="#p41"/><use href="#p41" transform="rotate(8.78)"/><use href="#p41" transform="rotate(17.56)"/><use href="#p41" transform="rotate(26.34)"/><use href="#p41" transform="rotate(35.12)"/><use href="#p41" transform="rotate(43.9)"/><use href="#p41" transform="rotate(52.68)"/><use href="#p41" transform="rotate(61.46)"/><use href="#p41" transform="rotate(70.24)"/><use href="#p41" transform="rotate(79.02)"/><use href="#p41" transform="rotate(87.8)"/><use href="#p41" transform="rotate(96.59)"/><use href="#p41" transform="rotate(105.37)"/><use href="#p41" transform="rotate(114.15)"/><use href="#p41" transform="rotate(122.93)"/><use href="#p41" transform="rotate(131.71)"/><use href="#p41" transform="rotate(140.49)"/><use href="#p41" transform="rotate(149.27)"/><use href="#p41" transform="rotate(158.05)"/><use href="#p41" transform="rotate(166.83)"/><use href="#p41" transform="rotate(175.61)"/><use href="#p41" transform="rotate(184.39)"/><use href="#p41" transform="rotate(193.17)"/><use href="#p41" transform="rotate(201.95)"/><use href="#p41" transform="rotate(210.73)"/><use href="#p41" transform="rotate(219.51)"/><use href="#p41" transform="rotate(228.29)"/><use href="#p41" transform="rotate(237.07)"/><use href="#p41" transform="rotate(245.85)"/><use href="#p41" transform="rotate(254.63)"/><use href="#p41" transform="rotate(263.41)"/><use href="#p41" transform="rotate(272.2)"/><use href="#p41" transform="rotate(280.98)"/><use href="#p41" transform="rotate(289.76)"/><use href="#p41" transform="rotate(298.54)"/><use href="#p41" transform="rotate(307.32)"/><use href="#p41" transform="rotate(316.1)"/><use href="#p41" transform="rotate(324.88)"/><use href="#p41" transform="rotate(333.66)"/><use href="#p41" transform="rotate(342.44)"/><use href="#p41" transform="rotate(351.22)"/></g>
<g id="n42" transform="translate(850,725.6)"><use href="#W"/><use href="#c3"/><use href="#n42t" transform="rotate(21.43)"/><use href="#n42t" transform="rotate(72.86)"/><use href="#n42t" transform="rotate(124.29)"/><use href="#n42t" transform="rotate(175.71)"/><use href="#n42t" transform="rotate(227.14)"/><use href="#n42t" transform="rotate(278.57)"/><use href="#n42t" transform="rotate(330)"/></g>

<g id="n43" transform="translate(71.7,855.3)"><use href="#W"/><use href="#p43"/><use href="#p43" transform="rotate(8.37)"/><use href="#p43" transform="rotate(16.74)"/><use href="#p43" transform="rotate(25.12)"/><use href="#p43" transform="rotate(33.49)"/><use href="#p43" transform="rotate(41.86)"/><use href="#p43" transform="rotate(50.23)"/><use href="#p43" transform="rotate(58.6)"/><use href="#p43" transform="rotate(66.98)"/><use href="#p43" transform="rotate(75.35)"/><use href="#p43" transform="rotate(83.72)"/><use href="#p43" transform="rotate(92.09)"/><use href="#p43" transform="rotate(100.47)"/><use href="#p43" transform="rotate(108.84)"/><use href="#p43" transform="rotate(117.21)"/><use href="#p43" transform="rotate(125.58)"/><use href="#p43" transform="rotate(133.95)"/><use href="#p43" transform="rotate(142.33)"/><use href="#p43" transform="rotate(150.7)"/><use href="#p43" transform="rotate(159.07)"/><use href="#p43" transform="rotate(167.44)"/><use href="#p43" transform="rotate(175.81)"/><use href="#p43" transform="rotate(184.19)"/><use href="#p43" transform="rotate(192.56)"/><use href="#p43" transform="rotate(200.93)"/><use href="#p43" transform="rotate(209.3)"/><use href="#p43" transform="rotate(217.67)"/><use href="#p43" transform="rotate(226.05)"/><use href="#p43" transform="rotate(234.42)"/><use href="#p43" transform="rotate(242.79)"/><use href="#p43" transform="rotate(251.16)"/><use href="#p43" transform="rotate(259.53)"/><use href="#p43" transform="rotate(267.91)"/><use href="#p43" transform="rotate(276.28)"/><use href="#p43" transform="rotate(284.65)"/><use href="#p43" transform="rotate(293.02)"/><use href="#p43" transform="rotate(301.4)"/><use href="#p43" transform="rotate(309.77)"/><use href="#p43" transform="rotate(318.14)"/><use href="#p43" transform="rotate(326.51)"/><use href="#p43" transform="rotate(334.88)"/><use href="#p43" transform="rotate(343.26)"/><use href="#p43" transform="rotate(351.63)"/></g>
<g id="n44" transform="translate(201.4,855.3)"><use href="#W"/><use href="#c3"/><use href="#n44t" transform="rotate(12.27)"/><use href="#n44t" transform="rotate(45)"/><use href="#n44t" transform="rotate(77.73)"/><use href="#n44t" transform="rotate(110.45)"/><use href="#n44t" transform="rotate(143.18)"/><use href="#n44t" transform="rotate(175.91)"/><use href="#n44t" transform="rotate(208.64)"/><use href="#n44t" transform="rotate(241.36)"/><use href="#n44t" transform="rotate(274.09)"/><use href="#n44t" transform="rotate(306.82)"/><use href="#n44t" transform="rotate(339.55)"/></g>
<g id="n45" transform="translate(331.1,855.3)"><use href="#W"/><use href="#c3"/><use href="#n45t" transform="rotate(32)"/><use href="#n45t" transform="rotate(104)"/><use href="#n45t" transform="rotate(176)"/><use href="#n45t" transform="rotate(248)"/><use href="#n45t" transform="rotate(320)"/></g>
<g id="n46" transform="translate(460.9,855.3)"><use href="#W"/><use href="#c2"/><use href="#n46t" transform="rotate(3.91)"/><use href="#n46t" transform="rotate(19.57)"/><use href="#n46t" transform="rotate(35.22)"/><use href="#n46t" transform="rotate(50.87)"/><use href="#n46t" transform="rotate(66.52)"/><use href="#n46t" transform="rotate(82.17)"/><use href="#n46t" transform="rotate(97.83)"/><use href="#n46t" transform="rotate(113.48)"/><use href="#n46t" transform="rotate(129.13)"/><use href="#n46t" transform="rotate(144.78)"/><use href="#n46t" transform="rotate(160.43)"/><use href="#n46t" transform="rotate(176.09)"/><use href="#n46t" transform="rotate(191.74)"/><use href="#n46t" transform="rotate(207.39)"/><use href="#n46t" transform="rotate(223.04)"/><use href="#n46t" transform="rotate(238.7)"/><use href="#n46t" transform="rotate(254.35)"/><use href="#n46t" transform="rotate(270)"/><use href="#n46t" transform="rotate(285.65)"/><use href="#n46t" transform="rotate(301.3)"/><use href="#n46t" transform="rotate(316.96)"/><use href="#n46t" transform="rotate(332.61)"/><use href="#n46t" transform="rotate(348.26)"/></g>
<g id="n47" transform="translate(590.6,855.3)"><use href="#W"/><use href="#p47"/><use href="#p47" transform="rotate(7.66)"/><use href="#p47" transform="rotate(15.32)"/><use href="#p47" transform="rotate(22.98)"/><use href="#p47" transform="rotate(30.64)"/><use href="#p47" transform="rotate(38.3)"/><use href="#p47" transform="rotate(45.96)"/><use href="#p47" transform="rotate(53.62)"/><use href="#p47" transform="rotate(61.28)"/><use href="#p47" transform="rotate(68.94)"/><use href="#p47" transform="rotate(76.6)"/><use href="#p47" transform="rotate(84.26)"/><use href="#p47" transform="rotate(91.91)"/><use href="#p47" transform="rotate(99.57)"/><use href="#p47" transform="rotate(107.23)"/><use href="#p47" transform="rotate(114.89)"/><use href="#p47" transform="rotate(122.55)"/><use href="#p47" transform="rotate(130.21)"/><use href="#p47" transform="rotate(137.87)"/><use href="#p47" transform="rotate(145.53)"/><use href="#p47" transform="rotate(153.19)"/><use href="#p47" transform="rotate(160.85)"/><use href="#p47" transform="rotate(168.51)"/><use href="#p47" transform="rotate(176.17)"/><use href="#p47" transform="rotate(183.83)"/><use href="#p47" transform="rotate(191.49)"/><use href="#p47" transform="rotate(199.15)"/><use href="#p47" transform="rotate(206.81)"/><use href="#p47" transform="rotate(214.47)"/><use href="#p47" transform="rotate(222.13)"/><use href="#p47" transform="rotate(229.79)"/><use href="#p47" transform="rotate(237.45)"/><use href="#p47" transform="rotate(245.11)"/><use href="#p47" transform="rotate(252.77)"/><use href="#p47" transform="rotate(260.43)"/><use href="#p47" transform="rotate(268.09)"/><use href="#p47" transform="rotate(275.74)"/><use href="#p47" transform="rotate(283.4)"/><use href="#p47" transform="rotate(291.06)"/><use href="#p47" transform="rotate(298.72)"/><use href="#p47" transform="rotate(306.38)"/><use href="#p47" transform="rotate(314.04)"/><use href="#p47" transform="rotate(321.7)"/><use href="#p47" transform="rotate(329.36)"/><use href="#p47" transform="rotate(337.02)"/><use href="#p47" transform="rotate(344.68)"/><use href="#p47" transform="rotate(352.34)"/></g>
<g id="n48" transform="translate(720.3,855.3)"><use href="#W"/><use href="#c5"/><use href="#n48t" transform="rotate(56.25)"/><use href="#n48t" transform="rotate(176.25)"/><use href="#n48t" transform="rotate(296.25)"/></g>
<g id="n49" transform="translate(850,855.3)"><use href="#W"/><use href="#c2"/><use href="#n49t" transform="rotate(22.04)"/><use href="#n49t" transform="rotate(73.47)"/><use href="#n49t" transform="rotate(124.9)"/><use href="#n49t" transform="rotate(176.33)"/><use href="#n49t" transform="rotate(227.76)"/><use href="#n49t" transform="rotate(279.18)"/><use href="#n49t" transform="rotate(330.61)"/></g>
</svg>
